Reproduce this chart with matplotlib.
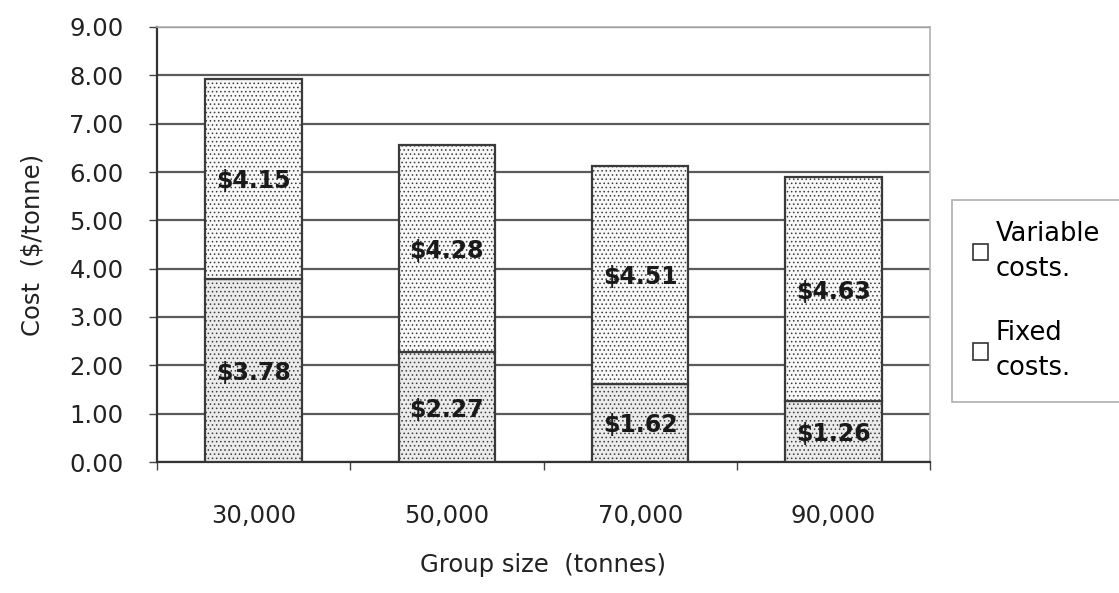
import matplotlib.pyplot as plt
import numpy as np

plt.rcParams['font.family'] = ['DejaVu Sans']
plt.rcParams['hatch.linewidth'] = 0.6

# data
group_sizes = ['30,000', '50,000', '70,000', '90,000']
fixed_costs = [3.78, 2.27, 1.62, 1.26]
variable_costs = [4.15, 4.28, 4.51, 4.63]

x = np.arange(len(group_sizes))

fig = plt.figure(figsize=(11.19, 5.93), dpi=100)
ax = fig.add_axes([157 / 1119, 1 - 462 / 593, (930 - 157) / 1119, (462 - 27) / 593])

plt.rcParams['hatch.color'] = '#d6d6d6'
b1 = ax.bar(x, fixed_costs, width=0.5, color='#ebebeb', edgecolor='#3a3a3a',
            linewidth=1.6, hatch='....', label='Fixed\ncosts.', zorder=3)
b2 = ax.bar(x, variable_costs, width=0.5, bottom=fixed_costs, color='#f8f8f8',
            edgecolor='#3a3a3a', linewidth=1.6, hatch='....', label='Variable\ncosts.', zorder=3)

# value labels in the middle of each segment
for i in x:
    ax.text(i, fixed_costs[i] / 2 - 0.05, '$%.2f' % fixed_costs[i], ha='center', va='center',
            fontsize=17, fontweight='bold', color='#1a1a1a', zorder=4)
    ax.text(i, fixed_costs[i] + variable_costs[i] / 2 - 0.05, '$%.2f' % variable_costs[i],
            ha='center', va='center', fontsize=17, fontweight='bold', color='#1a1a1a', zorder=4)

ax.set_ylim(0, 9)
ax.set_xlim(-0.5, 3.5)
ax.set_yticks(np.arange(0, 10, 1))
ax.set_yticklabels(['%.2f' % v for v in np.arange(0, 10, 1)], fontsize=17.5, color='#222222')
ax.set_xticks(x)
ax.set_xticklabels(group_sizes, fontsize=17.5, color='#222222')
ax.set_xticks(np.arange(-0.5, 4, 1), minor=True)
ax.tick_params(axis='x', which='major', length=0, pad=30)
ax.tick_params(axis='x', which='minor', length=6, width=1, color='#444444', direction='out')
ax.tick_params(axis='y', length=6, width=1, color='#444444', direction='out', pad=18)

ax.yaxis.grid(True, color='#5a5a5a', linewidth=1.6, zorder=0)
ax.set_axisbelow(True)
for side in ['top', 'right']:
    ax.spines[side].set_color('#b0b0b0')
    ax.spines[side].set_linewidth(1.2)
ax.spines['left'].set_color('#333333')
ax.spines['left'].set_linewidth(1.6)
ax.spines['bottom'].set_color('#333333')
ax.spines['bottom'].set_linewidth(1.6)

ax.set_ylabel('Cost  ($/tonne)', fontsize=17.5, color='#222222', labelpad=18)
ax.set_xlabel('Group size  (tonnes)', fontsize=17.5, color='#222222', labelpad=18)

leg = fig.legend([b2, b1], ['Variable\ncosts.', 'Fixed\ncosts.'], loc='upper left',
                 bbox_to_anchor=(952 / 1119, 1 - 200 / 593), fontsize=18.5, frameon=True,
                 fancybox=False, edgecolor='#999999', handlelength=0.6, handleheight=0.6,
                 handletextpad=0.3, labelspacing=1.5, borderpad=0.8, borderaxespad=0)
leg.get_frame().set_linewidth(1.2)
for t in leg.get_texts():
    t.set_linespacing(1.45)
for h in leg.legend_handles:
    h.set_hatch('')
    h.set_facecolor('white')
    h.set_edgecolor('#333333')
    h.set_linewidth(1.2)

fig.savefig('out.png', dpi=100)
